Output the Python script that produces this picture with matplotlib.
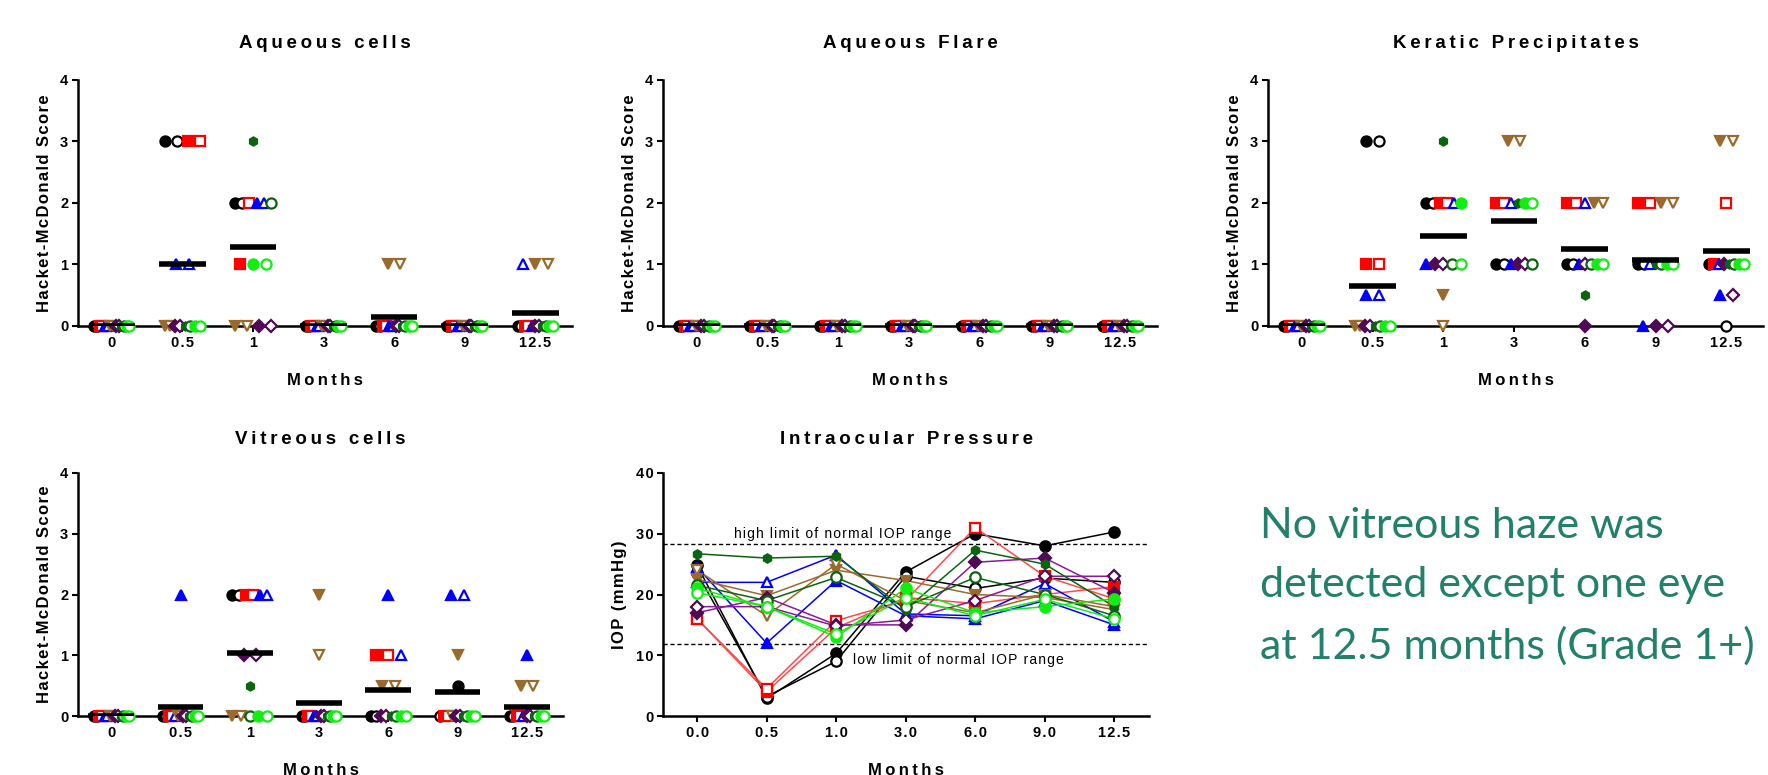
import numpy as np
import matplotlib
matplotlib.use("Agg")
import matplotlib.pyplot as plt

# time points (months) and their axis labels
months = [0, 0.5, 1, 3, 6, 9, 12.5]
score_labels = ["0", "0.5", "1", "3", "6", "9", "12.5"]
iop_labels = ["0.0", "0.5", "1.0", "3.0", "6.0", "9.0", "12.5"]

# one row per eye, one column per time point
# eye order: black o, black open, red sq, red sq open, blue tri, blue tri open,
# brown tri-down, brown open, purple diamond, purple open, dark green, dark green open,
# green, green open
aqueous_cells = [
    [0, 3, 2, 0, 0, 0, 0],
    [0, 3, 2, 0, 0, 0, 0],
    [0, 3, 1, 0, 0, 0, 0],
    [0, 3, 2, 0, 0, 0, 0],
    [0, 1, 2, 0, 0, 0, 0],
    [0, 1, 2, 0, 0, 0, 1],
    [0, 0, 0, 0, 1, 0, 1],
    [0, 0, 0, 0, 1, 0, 1],
    [0, 0, 0, 0, 0, 0, 0],
    [0, 0, 0, 0, 0, 0, 0],
    [0, 0, 3, 0, 0, 0, 0],
    [0, 0, 2, 0, 0, 0, 0],
    [0, 0, 1, 0, 0, 0, 0],
    [0, 0, 1, 0, 0, 0, 0],
]
aqueous_flare = [[0, 0, 0, 0, 0, 0, 0] for _ in range(14)]
keratic_precipitates = [
    [0, 3, 2, 1, 1, 1, 1],
    [0, 3, 2, 1, 1, 1, 0],
    [0, 1, 2, 2, 2, 2, 1],
    [0, 1, 2, 2, 2, 2, 2],
    [0, 0.5, 1, 1, 1, 0, 0.5],
    [0, 0.5, 2, 2, 2, 1, 1],
    [0, 0, 0.5, 3, 2, 2, 3],
    [0, 0, 0, 3, 2, 2, 3],
    [0, 0, 1, 1, 0, 0, 1],
    [0, 0, 1, 1, 1, 0, 0.5],
    [0, 0, 3, 2, 0.5, 1, 1],
    [0, 0, 1, 1, 1, 1, 1],
    [0, 0, 2, 2, 1, 1, 1],
    [0, 0, 1, 2, 1, 1, 1],
]
vitreous_cells = [
    [0, 0, 2, 0, 0, 0.5, 0],
    [0, 0, 2, 0, 0, 0, 0],
    [0, 0, 2, 0, 1, 0, 0],
    [0, 0, 2, 0, 1, 0, 0],
    [0, 2, 2, 0, 2, 2, 1],
    [0, 0, 2, 0, 1, 2, 0],
    [0, 0, 0, 2, 0.5, 1, 0.5],
    [0, 0, 0, 1, 0.5, 0, 0.5],
    [0, 0, 1, 0, 0, 0, 0],
    [0, 0, 1, 0, 0, 0, 0],
    [0, 0, 0.5, 0, 0, 0, 0],
    [0, 0, 0, 0, 0, 0, 0],
    [0, 0, 0, 0, 0, 0, 0],
    [0, 0, 0, 0, 0, 0, 0],
]
iop = [
    [24.8, 2.9, 10.3, 23.7, 30.0, 28.0, 30.3],
    [23.5, 3.2, 9.0, 23.0, 21.0, 22.7, 22.0],
    [16.0, 4.0, 14.5, 19.5, 18.5, 20.0, 21.3],
    [16.0, 4.5, 15.7, 19.0, 31.0, 23.0, 19.3],
    [24.5, 12.0, 22.3, 16.5, 16.0, 19.0, 15.0],
    [22.0, 22.0, 26.5, 16.8, 16.5, 21.8, 15.5],
    [22.5, 19.8, 24.0, 22.3, 20.0, 19.5, 17.5],
    [24.0, 16.5, 25.0, 19.0, 17.0, 20.0, 18.0],
    [17.0, 19.5, 15.0, 15.0, 25.3, 26.0, 20.3],
    [18.0, 18.0, 14.8, 15.8, 19.0, 23.0, 23.0],
    [26.7, 26.0, 26.3, 17.5, 27.3, 25.0, 18.0],
    [21.5, 19.0, 22.8, 18.0, 22.8, 20.0, 16.5],
    [21.0, 18.0, 13.0, 21.0, 17.0, 18.0, 19.3],
    [20.3, 18.0, 13.5, 19.5, 16.5, 19.2, 16.0],
]
iop_high = 28.3
iop_low = 11.9

# marker style per eye: (marker, colour, filled, line colour)
BLACK, RED, BLUE, BROWN = "black", "#ff0000", "#0000ff", "#9a6a2c"
PURPLE, DKGREEN, GREEN = "#4e0a55", "#0b6410", "#11ee11"
eye_styles = [
    ("o", BLACK, True, "black"),
    ("o", BLACK, False, "black"),
    ("s", RED, True, "#ff4a4a"),
    ("s", RED, False, "#ff4a4a"),
    ("^", BLUE, True, BLUE),
    ("^", BLUE, False, BLUE),
    ("v", BROWN, True, BROWN),
    ("v", BROWN, False, BROWN),
    ("D", PURPLE, True, "#8a1a9a"),
    ("D", PURPLE, False, "#8a1a9a"),
    ("h", DKGREEN, True, DKGREEN),
    ("o", DKGREEN, False, DKGREEN),
    ("o", GREEN, True, GREEN),
    ("o", GREEN, False, GREEN),
]

plt.rcParams["font.family"] = ["Liberation Sans", "DejaVu Sans"]

THIN = "\u2009"
HAIR = "\u200a"


def spaced(s, sp=THIN):
    # Prism-style tracking: a narrow space between letters
    return sp.join(s)


def marker_kw(style, ms):
    mk, col, filled, _ = style
    size = ms * (0.8 if mk in ("D", "h") else 1.0)
    return dict(marker=mk, ms=size, mec=col, mfc=col if filled else "white",
                mew=1.6, ls="none", clip_on=False)


def spread(vals, maxstep=0.18, maxspan=0.5):
    # lay points with the same score side by side, like a column scatter
    vals = np.asarray(vals, dtype=float)
    offs = np.zeros(len(vals))
    for v in np.unique(vals):
        idx = np.where(vals == v)[0]
        n = len(idx)
        if n > 1:
            step = min(maxstep, maxspan / (n - 1))
            offs[idx] = (np.arange(n) - (n - 1) / 2) * step
    return offs


def style_axes(ax, xlabels, yticks):
    for s in ("top", "right"):
        ax.spines[s].set_visible(False)
    for s in ("left", "bottom"):
        ax.spines[s].set_linewidth(1.8)
    ax.set_xticks(np.arange(len(xlabels)))
    ax.set_xticklabels([spaced(t, HAIR) for t in xlabels])
    ax.set_yticks(yticks)
    ax.set_yticklabels([spaced(str(t), HAIR) for t in yticks])
    ax.tick_params(axis="both", width=1.5, length=4, labelsize=10.5, pad=3)
    for lab in ax.get_xticklabels() + ax.get_yticklabels():
        lab.set_fontweight("bold")


def score_panel(rect, title, data, title_pad):
    ax = fig.add_axes(rect)
    arr = np.array(data, dtype=float)
    x = np.arange(len(months))
    for j in range(len(months)):
        offs = spread(arr[:, j])
        for i, st in enumerate(eye_styles):
            ax.plot(x[j] + offs[i], arr[i, j], zorder=3, **marker_kw(st, 7.3))
    ax.hlines(arr.mean(axis=0), x - 0.33, x + 0.33, color="black", lw=4, zorder=5)
    ax.set_xlim(-0.48, 6.52)
    ax.set_ylim(0, 4)
    ax.set_title(spaced(title), fontsize=13.5, fontweight="bold", pad=title_pad)
    ax.set_xlabel(spaced("Months"), fontsize=12, fontweight="bold", labelpad=17)
    ax.set_ylabel(spaced("Hacket-McDonald Score", HAIR), fontsize=12,
                  fontweight="bold", labelpad=6)
    style_axes(ax, score_labels, [0, 1, 2, 3, 4])
    return ax


fig = plt.figure(figsize=(17.68, 7.75), dpi=100)

top_b, top_h = 0.5794, 0.3174
bot_b, bot_h = 0.0761, 0.3136
score_panel([0.0441, top_b, 0.2794, top_h], "Aqueous cells", aqueous_cells, 23)
score_panel([0.3750, top_b, 0.2794, top_h], "Aqueous Flare", aqueous_flare, 23)
score_panel([0.7172, top_b, 0.2800, top_h], "Keratic Precipitates", keratic_precipitates, 23)
score_panel([0.0441, bot_b, 0.2743, bot_h], "Vitreous cells", vitreous_cells, 21)

# intraocular pressure
ax = fig.add_axes([0.3750, bot_b, 0.2749, bot_h])
x = np.arange(len(months))
for i, st in enumerate(eye_styles):
    ax.plot(x, iop[i], color=st[3], lw=1.1, zorder=2, clip_on=False)
    ax.plot(x, iop[i], zorder=3, **marker_kw(st, 7.5))
ax.axhline(iop_high, color="black", lw=1, ls=(0, (3, 2)), zorder=1)
ax.axhline(iop_low, color="black", lw=1, ls=(0, (3, 2)), zorder=1)
ax.text(2.1, iop_high + 0.5, spaced("high limit of normal IOP range", HAIR),
        fontsize=10, ha="center", va="bottom")
ax.text(3.76, iop_low - 1.6, spaced("low limit of normal IOP range", HAIR),
        fontsize=10, ha="center", va="top")
ax.set_xlim(-0.49, 6.5)
ax.set_ylim(0, 40)
ax.set_title(spaced("Intraocular Pressure"), fontsize=13.5, fontweight="bold", pad=21)
ax.set_xlabel(spaced("Months"), fontsize=12, fontweight="bold", labelpad=17)
ax.set_ylabel(spaced("IOP (mmHg)", HAIR), fontsize=12, fontweight="bold", labelpad=6)
style_axes(ax, iop_labels, [0, 10, 20, 30, 40])

fig.text(1260 / 1768, 1 - 586 / 775,
         "No vitreous haze was\ndetected except one eye\nat 12.5 months (Grade 1+)",
         fontsize=31, color="#23806a", family=["Lato", "DejaVu Sans"],
         ha="left", va="center", linespacing=1.68)

fig.savefig("out.png", dpi=100)
